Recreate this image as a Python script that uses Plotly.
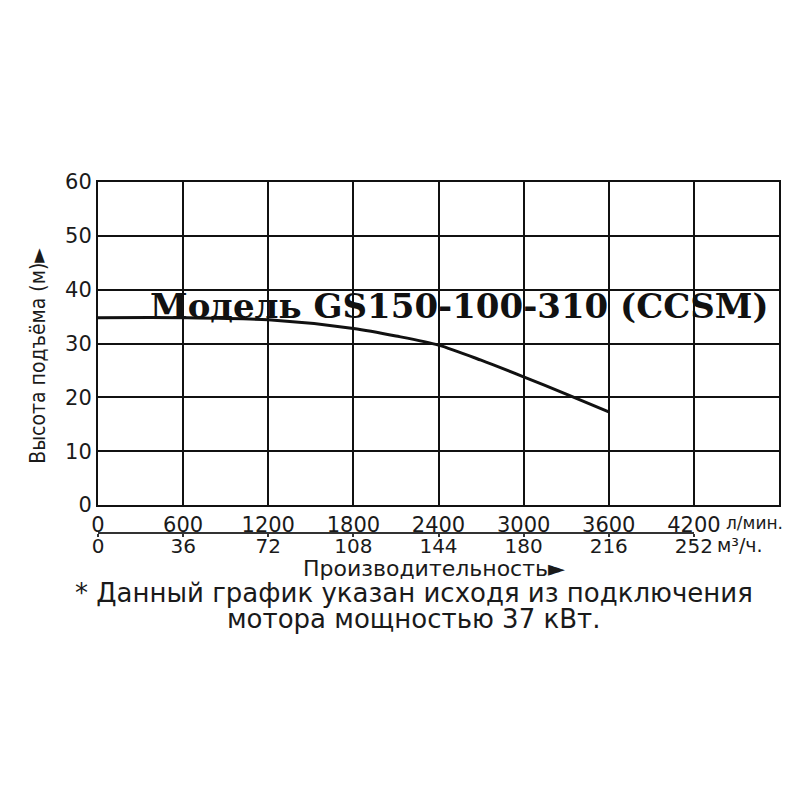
import plotly.graph_objects as go

# Pump curve GS150-100-310 (CCSM)
flow_lpm = [0, 600, 1200, 1800, 2100, 2400, 2700, 3000, 3300, 3600]
head_m = [34.8, 34.8, 34.4, 32.8, 31.4, 29.7, 26.9, 23.8, 20.6, 17.3]

lpm_ticks = [0, 600, 1200, 1800, 2400, 3000, 3600, 4200]
m3h_ticks = [0, 36, 72, 108, 144, 180, 216, 252]
head_ticks = [0, 10, 20, 30, 40, 50, 60]

model_name = "Модель GS150-100-310 (CCSM)"
y_title = "Высота подъёма (м)►"
x_title = "Производительность►"
note_line1 = "* Данный график указан исходя из подключения"
note_line2 = "мотора мощностью 37 кВт."

SANS = "DejaVu Sans, Liberation Sans, Arial, sans-serif"
NARROW = "Liberation Sans Narrow, DejaVu Sans Condensed, sans-serif"
INK = '#1a1a1a'

fig = go.Figure()

fig.add_trace(go.Scatter(
    x=flow_lpm,
    y=head_m,
    mode='lines',
    line=dict(color='#111111', width=3, shape='spline', smoothing=0.8),
    showlegend=False,
    hoverinfo='skip'
))

# empty trace so the m3/h scale gets its own axis
fig.add_trace(go.Scatter(
    x=m3h_ticks,
    y=[None] * len(m3h_ticks),
    xaxis='x2',
    yaxis='y',
    mode='lines',
    showlegend=False,
    hoverinfo='skip'
))

fig.update_layout(
    width=800,
    height=800,
    margin=dict(l=90, r=29, t=174, b=275, autoexpand=False),
    paper_bgcolor='white',
    plot_bgcolor='rgba(0,0,0,0)',
    font=dict(family=SANS, size=21, color=INK),
    xaxis=dict(
        range=[0, 4800],
        tickvals=lpm_ticks,
        domain=[0, 1],
        showgrid=True,
        gridcolor='#111111',
        gridwidth=2,
        zeroline=False,
        showline=True,
        linecolor='#111111',
        linewidth=2,
        mirror=True,
        ticks='',
        automargin=False,
        tickfont=dict(family=SANS, size=21, color=INK),
        anchor='y'
    ),
    xaxis2=dict(
        range=[0, 252],
        tickvals=m3h_ticks,
        domain=[0, 0.875],
        anchor='free',
        position=0,
        side='bottom',
        showgrid=False,
        zeroline=False,
        showline=True,
        linecolor='#333333',
        linewidth=1.5,
        ticks='outside',
        ticklen=3,
        tickwidth=1.5,
        tickcolor='#333333',
        ticklabelstandoff=-8,
        automargin=False,
        tickfont=dict(family=SANS, size=20, color=INK)
    ),
    yaxis=dict(
        range=[0, 60],
        tickvals=head_ticks,
        domain=[0.0798, 1],
        showgrid=True,
        gridcolor='#111111',
        gridwidth=2,
        zeroline=False,
        showline=True,
        linecolor='#111111',
        linewidth=2,
        mirror=True,
        ticks='',
        automargin=False,
        tickfont=dict(family=SANS, size=21, color=INK)
    )
)

# white strip behind the model label: above the grid, under the curve
fig.add_shape(
    type='rect', xref='paper', yref='paper',
    x0=0.076, x1=0.99, y0=0.603, y1=0.684,
    fillcolor='white', line=dict(width=0),
    layer='between'
)

fig.add_annotation(
    x=2545, y=36.97, xref='x', yref='y',
    text="<b>" + model_name + "</b>",
    showarrow=False,
    font=dict(family="DejaVu Serif, Liberation Serif, serif", size=34, color='#111111')
)

# rotated y title
fig.add_annotation(
    x=-0.088, y=0.505, xref='paper', yref='paper',
    xanchor='center', yanchor='middle',
    text=y_title,
    textangle=-90,
    showarrow=False,
    font=dict(family=NARROW, size=21, color=INK)
)

# units after last tick labels
fig.add_annotation(
    x=0.919, y=0.0285, xref='paper', yref='paper',
    text="л/мин.", xanchor='left', yanchor='middle', showarrow=False,
    font=dict(family=SANS, size=17, color=INK)
)
fig.add_annotation(
    x=0.906, y=-0.034, xref='paper', yref='paper',
    text="м³/ч.", xanchor='left', yanchor='middle', showarrow=False,
    font=dict(family=SANS, size=19, color=INK)
)

fig.add_annotation(
    x=0.493, y=-0.102, xref='paper', yref='paper',
    xanchor='center', yanchor='middle',
    text=x_title, showarrow=False,
    font=dict(family=SANS, size=22, color=INK)
)

fig.add_annotation(
    x=0.464, y=-0.171, xref='paper', yref='paper',
    xanchor='center', yanchor='middle',
    text=note_line1, showarrow=False,
    font=dict(family=SANS, size=26, color=INK)
)
fig.add_annotation(
    x=0.464, y=-0.245, xref='paper', yref='paper',
    xanchor='center', yanchor='middle',
    text=note_line2, showarrow=False,
    font=dict(family=SANS, size=26, color=INK)
)

fig.write_html("out.html")
